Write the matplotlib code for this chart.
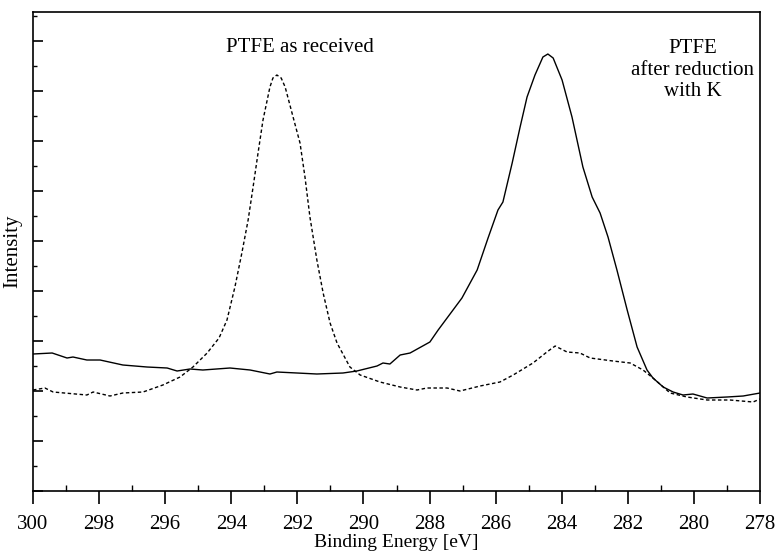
import matplotlib.pyplot as plt
from matplotlib.ticker import MultipleLocator

plt.rcParams['font.family'] = ['Liberation Serif', 'DejaVu Serif']

# PTFE after reduction with K (solid)
reduced_x = [300.00, 299.42, 298.97, 298.79, 298.37, 297.97, 297.28, 296.55, 295.94, 295.64,
             295.25, 294.86, 294.04, 293.43, 292.83, 292.62, 292.01, 291.41, 290.62, 290.20,
             289.59, 289.41, 289.20, 288.89, 288.59, 287.99, 287.74, 287.02, 286.56, 286.23,
             285.93, 285.78, 285.50, 285.26, 285.05, 284.81, 284.57, 284.42, 284.26, 283.99,
             283.69, 283.36, 283.08, 282.84, 282.60, 282.33, 282.02, 281.72, 281.42, 281.24,
             280.93, 280.63, 280.33, 280.03, 279.60, 279.00, 278.51, 278.00]
reduced_y = [2.74, 2.76, 2.66, 2.68, 2.62, 2.62, 2.52, 2.48, 2.46, 2.40,
             2.44, 2.42, 2.46, 2.42, 2.34, 2.38, 2.36, 2.34, 2.36, 2.40,
             2.50, 2.56, 2.54, 2.72, 2.76, 2.98, 3.22, 3.86, 4.42, 5.06,
             5.62, 5.78, 6.56, 7.28, 7.88, 8.32, 8.68, 8.74, 8.66, 8.22,
             7.48, 6.48, 5.88, 5.56, 5.08, 4.42, 3.62, 2.88, 2.42, 2.26,
             2.08, 1.98, 1.92, 1.94, 1.86, 1.88, 1.90, 1.96]

# PTFE as received (dashed)
received_x = [300.00, 299.64, 299.39, 298.37, 298.18, 297.67, 297.28, 296.67, 296.07, 295.55,
              295.16, 294.73, 294.37, 294.13, 293.89, 293.68, 293.49, 293.34, 293.19, 293.04,
              292.83, 292.74, 292.62, 292.49, 292.37, 292.13, 291.92, 291.77, 291.62, 291.41,
              291.22, 291.01, 290.80, 290.41, 290.10, 289.50, 288.89, 288.38, 288.08, 287.47,
              287.08, 286.47, 285.87, 285.47, 284.87, 284.45, 284.20, 283.84, 283.45, 283.14,
              282.45, 281.93, 281.54, 281.24, 280.72, 280.21, 279.60, 278.91, 278.21, 278.00]
received_y = [2.02, 2.06, 1.98, 1.92, 1.98, 1.90, 1.96, 1.98, 2.12, 2.28,
              2.48, 2.76, 3.06, 3.42, 4.08, 4.76, 5.42, 6.08, 6.76, 7.42,
              8.08, 8.26, 8.32, 8.26, 8.08, 7.48, 6.96, 6.28, 5.48, 4.62,
              3.96, 3.36, 2.96, 2.48, 2.32, 2.18, 2.08, 2.02, 2.06, 2.06,
              2.00, 2.10, 2.18, 2.32, 2.56, 2.78, 2.90, 2.78, 2.76, 2.66,
              2.60, 2.56, 2.42, 2.26, 1.96, 1.88, 1.82, 1.82, 1.78, 1.84]

fig = plt.figure(figsize=(7.8, 5.56), dpi=100)
ax = fig.add_axes([0.0423, 0.1169, 0.9321, 0.8615])

ax.plot(reduced_x, reduced_y, color='black', lw=1.0)
ax.plot(received_x, received_y, color='black', lw=1.0, linestyle=(0, (2.5, 1.8)))

ax.set_xlim(300, 278)
ax.set_ylim(0, 9.58)

ax.xaxis.set_major_locator(MultipleLocator(2))
ax.xaxis.set_minor_locator(MultipleLocator(1))
ax.yaxis.set_major_locator(MultipleLocator(1))
ax.yaxis.set_minor_locator(MultipleLocator(0.5))
ax.tick_params(axis='x', which='major', direction='out', length=9, width=1.2, labelsize=15, pad=8)
ax.tick_params(axis='x', which='minor', direction='in', length=4, width=1.0)
ax.tick_params(axis='y', which='major', direction='in', length=7, width=1.2, labelleft=False)
ax.tick_params(axis='y', which='minor', direction='in', length=3, width=1.0)
for s in ax.spines.values():
    s.set_linewidth(1.2)

ax.set_xlabel('Binding Energy [eV]', fontsize=14, labelpad=0)
ax.set_ylabel('Intensity', fontsize=15, labelpad=4)

ax.text(291.92, 8.88, 'PTFE as received', fontsize=15, ha='center', va='center')
ax.text(280.03, 8.42, 'PTFE\nafter reduction\nwith K', fontsize=15, ha='center', va='center',
        linespacing=1.2)

fig.savefig('out.png', dpi=100)
